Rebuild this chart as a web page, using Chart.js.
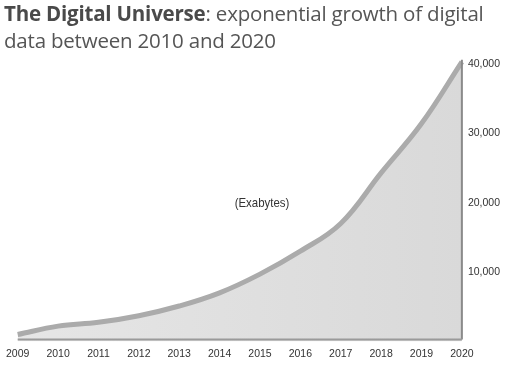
<!DOCTYPE html>
<html>
<head>
<meta charset="utf-8">
<script src="https://cdn.jsdelivr.net/npm/chart.js@4.4.0/dist/chart.umd.min.js"></script>
<style>
  html, body { margin: 0; padding: 0; background: #fff; }
  #wrap { position: relative; width: 511px; height: 366px; }
  #title {
    position: absolute; left: 4px; top: 0px;
    font-family: "Open Sans", "Noto Sans", sans-serif;
    font-size: 20.5px; line-height: 27px; color: #555;
    letter-spacing: -0.2px;
  }
  #title b { color: #4a4a4a; }
  canvas { position: absolute; left: 0; top: 0; }
</style>
</head>
<body>
<div id="wrap">
  <canvas id="chart" width="511" height="366"></canvas>
  <div id="title"><b>The Digital Universe</b>: exponential growth of digital<br>data between 2010 and 2020</div>
</div>
<script>
const years = ['2009', '2010', '2011', '2012', '2013', '2014', '2015', '2016', '2017', '2018', '2019', '2020'];
const exabytes = [1000, 2200, 2750, 3700, 5100, 7000, 9700, 13000, 17000, 24300, 31400, 40300];
const yTicks = [10000, 20000, 30000, 40000];
const unitLabel = '(Exabytes)';

const tickFont = { family: '"Liberation Sans", Arial, sans-serif', size: 10.5 };

// extra drawing: right edge, bottom shadow and the unit label
const decor = {
    id: 'decor',
    beforeDatasetsDraw(chart) {
        const ctx = chart.ctx;
        const x = chart.scales.x;
        const y = chart.scales.y;
        ctx.save();
        ctx.fillStyle = '#333';
        ctx.font = '13px "Liberation Sans", Arial, sans-serif';
        ctx.textAlign = 'center';
        ctx.textBaseline = 'middle';
        ctx.translate(x.getPixelForValue(6.05), y.getPixelForValue(19900));
        ctx.scale(0.88, 1);
        ctx.fillText(unitLabel, 0, 0);
        ctx.restore();
    },
    afterDatasetsDraw(chart) {
        const ctx = chart.ctx;
        const x = chart.scales.x;
        const y = chart.scales.y;
        const last = exabytes.length - 1;
        const xr = x.getPixelForValue(last);
        const yb = y.getPixelForValue(0) - 2;
        ctx.save();
        ctx.strokeStyle = '#8a8a8a';
        ctx.lineWidth = 2;
        ctx.beginPath();
        ctx.moveTo(xr, y.getPixelForValue(exabytes[last]) - 2);
        ctx.lineTo(xr, yb);
        ctx.stroke();
        ctx.strokeStyle = '#9a9a9a';
        ctx.beginPath();
        ctx.moveTo(x.getPixelForValue(0), yb);
        ctx.lineTo(xr, yb);
        ctx.stroke();
        ctx.restore();
    }
};

const ctx = document.getElementById('chart').getContext('2d');
const chart = new Chart(ctx, {
    type: 'line',
    data: {
        labels: years,
        datasets: [{
            data: exabytes,
            borderColor: '#ababab',
            borderWidth: 5,
            pointRadius: 0,
            tension: 0.4,
            fill: 'origin',
            backgroundColor: function (c) {
                const area = c.chart.chartArea;
                if (!area) return '#dedede';
                const g = c.chart.ctx.createLinearGradient(area.left, 0, area.right, 0);
                g.addColorStop(0, '#e6e6e6');
                g.addColorStop(1, '#d9d9d9');
                return g;
            }
        }]
    },
    options: {
        responsive: false,
        animation: false,
        layout: { padding: { left: 6, right: 5, top: 57, bottom: 0 } },
        plugins: {
            legend: { display: false },
            tooltip: { enabled: false }
        },
        scales: {
            x: {
                offset: false,
                grid: { display: false, drawTicks: false },
                border: { display: false },
                ticks: {
                    color: '#333',
                    maxRotation: 0,
                    autoSkip: false,
                    padding: 6,
                    font: tickFont
                }
            },
            y: {
                position: 'right',
                min: 0,
                max: 41000,
                grid: { display: false, drawTicks: false },
                border: { display: false },
                afterBuildTicks: function (axis) {
                    axis.ticks = yTicks.map(v => ({ value: v }));
                },
                ticks: {
                    color: '#333',
                    padding: 6,
                    font: tickFont,
                    callback: function (v) { return v.toLocaleString('en-US'); }
                }
            }
        }
    },
    plugins: [decor]
});
</script>
</body>
</html>
